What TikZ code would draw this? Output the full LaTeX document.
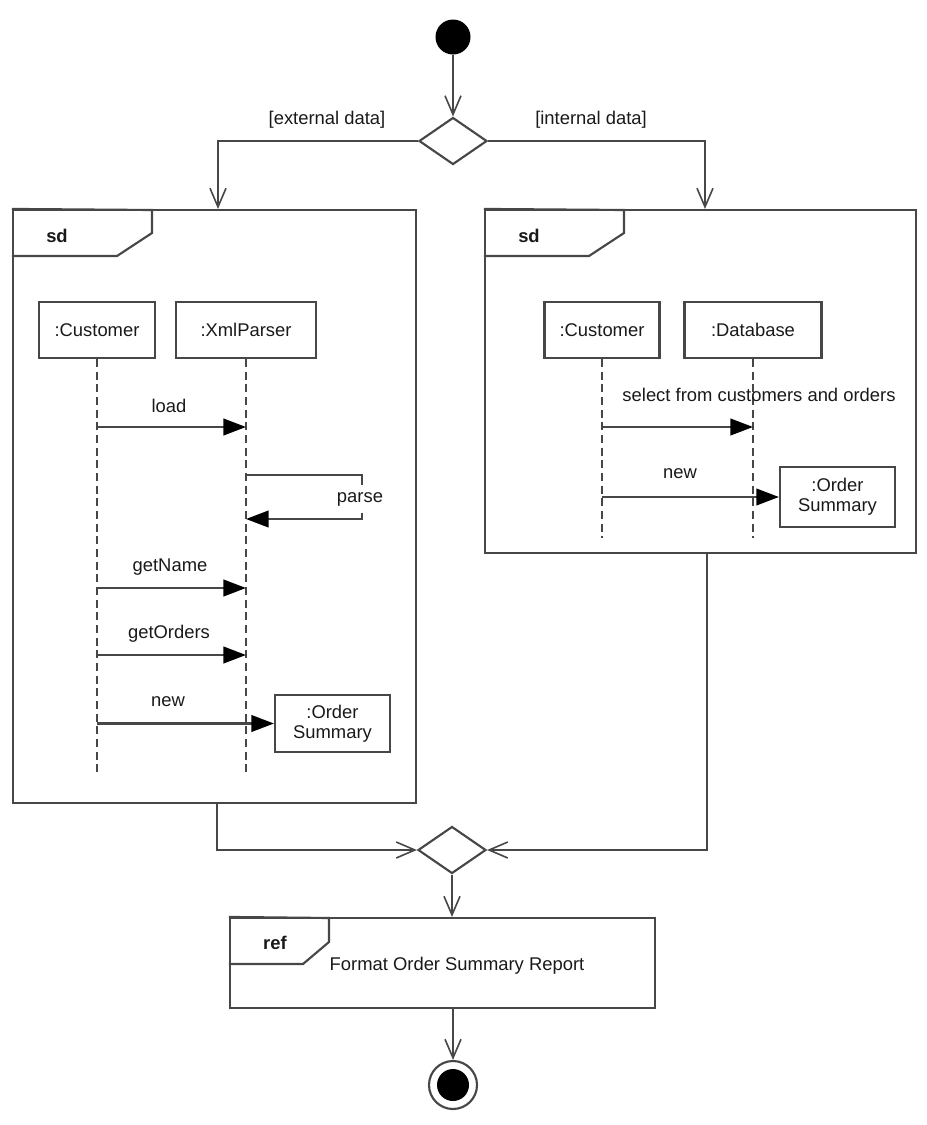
\documentclass[tikz,border=0pt]{standalone}
\usepackage{fontspec}
\setmainfont{Liberation Sans}
\usetikzlibrary{arrows.meta,shapes.geometric}
\begin{document}
\begin{tikzpicture}[x=0.75pt,y=-0.75pt,
  line/.style={draw=black!72, line width=1.6pt},
  flow/.style={line, -{Straight Barb[length=14pt,width=12pt,line width=1.2pt]}},
  msg/.style={line, -{Triangle[length=17pt,width=12.5pt,fill=black,color=black]}},
  life/.style={draw=black!72, line width=1.5pt, dash pattern=on 6pt off 3.5pt},
  lbl/.style={font=\fontsize{13.8}{16}\selectfont, text=black!90, inner sep=0pt},
  objbox/.style={line, rectangle, inner sep=0pt, minimum width={#1*0.75pt}, minimum height={56*0.75pt}, font=\fontsize{13.8}{16}\selectfont, text=black!90, align=center},
  frame/.style={line, rectangle, inner sep=0pt},
  decision/.style={line, diamond, inner sep=0pt, minimum width={68*0.75pt}, minimum height={47*0.75pt}},
  tagtext/.style={font=\bfseries\fontsize{13.8}{16}\selectfont, text=black!90, inner sep=0pt}
]
\useasboundingbox (0,0) rectangle (926,1125);

% start
\node[circle, fill=black, minimum size={35*0.75pt}, inner sep=0pt] (start) at (453,37) {};
\node[decision] (d1) at (453,141) {};
\draw[flow] (start) -- (d1.north);
\node[lbl] (lext) at (327,120) {[external data]};
\node[lbl] (lint) at (591,120) {[internal data]};

% left frame
\node[frame, minimum width={403*0.75pt}, minimum height={593*0.75pt}] (lf) at (214.5,506.5) {};
\draw[line] (lf.north west) -- (152,210) -- (152,233) -- (117,256) -- (lf.north west |- 0,256);
\node[tagtext] (lsd) at (57,236) {sd};

% right frame
\node[frame, minimum width={431*0.75pt}, minimum height={343*0.75pt}] (rf) at (700.5,381.5) {};
\draw[line] (rf.north west) -- (624,210) -- (624,233) -- (589,256) -- (rf.north west |- 0,256);
\node[tagtext] (rsd) at (529,236) {sd};

\draw[flow] (d1.west) -| ([xshift={3.5*0.75pt}]lf.north);
\draw[flow] (d1.east) -| ([xshift={4.5*0.75pt}]rf.north);

% left sequence
\node[objbox=116] (c1) at (97,330) {:Customer};
\node[objbox=140] (x1) at (246,330) {:XmlParser};
\coordinate (c1e) at (97,775);
\coordinate (x1e) at (246,775);
\draw[life] (c1.south) -- (c1e);
\draw[life] (x1.south) -- (x1e);

\coordinate (yload) at (0,427);
\draw[msg] (c1 |- yload) -- (x1 |- yload);
\node[lbl] (tload) at (169,406) {load};

\coordinate (yp1) at (0,475);
\coordinate (yp2) at (0,519);
\coordinate (pr) at (362,0);
\draw[msg] (x1 |- yp1) -- (pr |- yp1) -- (pr |- yp2) -- (x1 |- yp2);
\node[lbl, fill=white, inner ysep=5pt, inner xsep=0pt] (tparse) at (360,499) {parse};

\coordinate (ygn) at (0,588);
\draw[msg] (c1 |- ygn) -- (x1 |- ygn);
\node[lbl] (tgn) at (170,567) {getName};

\coordinate (ygo) at (0,655);
\draw[msg] (c1 |- ygo) -- (x1 |- ygo);
\node[lbl] (tgo) at (169,634) {getOrders};

\node[objbox=115, minimum height={57*0.75pt}] (o1) at (332.5,723.5) {:Order\\[-1pt]Summary};
\draw[msg] (c1 |- o1.west) -- (o1.west);
\node[lbl] (tnew1) at (168,702) {new};

% right sequence
\node[objbox=115] (c2) at (602,330) {:Customer};
\node[objbox=137] (db) at (753,330) {:Database};
\coordinate (c2e) at (602,538);
\coordinate (dbe) at (753,538);
\draw[life] (c2.south) -- (c2e);
\draw[life] (db.south) -- (dbe);

\coordinate (ysel) at (0,427);
\draw[msg] (c2 |- ysel) -- (db |- ysel);
\node[lbl] (tsel) at (759,395) {select from customers and orders};

\node[objbox=115, minimum height={60*0.75pt}] (o2) at (837.5,497) {:Order\\[-1pt]Summary};
\draw[msg] (c2 |- o2.west) -- (o2.west);
\node[lbl] (tnew2) at (680,474) {new};

% merge
\node[decision] (d2) at (452,850) {};
\draw[flow] ([xshift={2.5*0.75pt}]lf.south) |- (d2.west);
\draw[flow] ([xshift={6.5*0.75pt}]rf.south) |- (d2.east);

% ref
\node[frame, minimum width={425*0.75pt}, minimum height={90*0.75pt}] (ref) at (442.5,963) {};
\draw[line] (ref.north west) -- (329,918) -- (329,942) -- (303,964) -- (ref.north west |- 0,964);
\node[tagtext] (treft) at (275,943) {ref};
\node[lbl] (tref) at (457,966) {Format Order Summary Report};
\draw[flow] (d2.south) -- (d2.south |- ref.north);

% end
\node[circle, line, minimum size={48*0.75pt}, inner sep=0pt] (end) at (453,1085) {};
\node[circle, fill=black, minimum size={32*0.75pt}, inner sep=0pt] (endin) at (453,1085) {};
\draw[flow] (ref.south -| end) -- (end.north);
\end{tikzpicture}
\end{document}
